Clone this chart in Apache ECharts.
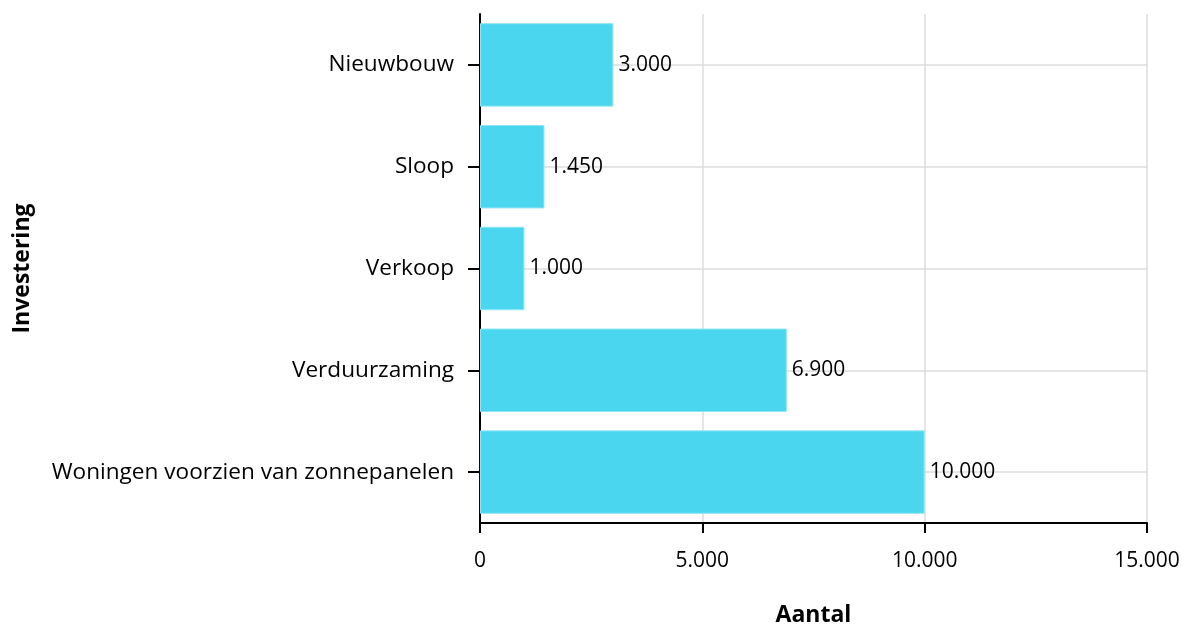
<!DOCTYPE html>
<html>
<head>
<meta charset="utf-8">
<script src="https://cdn.jsdelivr.net/npm/echarts@6/dist/echarts.min.js"></script>
<style>html,body{margin:0;padding:0;background:#fff}#c{width:1182px;height:626px}</style>
</head>
<body>
<div id="c"></div>
<script>
const categories = ['Nieuwbouw', 'Sloop', 'Verkoop', 'Verduurzaming', 'Woningen voorzien van zonnepanelen'];
const values = [3000, 1450, 1000, 6900, 10000];
const xTicks = { min: 0, max: 15000, interval: 5000 };
const xName = 'Aantal';
const yName = 'Investering';

const fmt = v => String(v).replace(/\B(?=(\d{3})+(?!\d))/g, '.');
const font = '"Open Sans", "Noto Sans", sans-serif';

const chart = echarts.init(document.getElementById('c'), null, { renderer: 'canvas' });
chart.setOption({
  animation: false,
  textStyle: { fontFamily: font },
  grid: { left: 480, right: 35, top: 14, bottom: 103, containLabel: false, outerBoundsMode: 'none' },
  xAxis: {
    type: 'value',
    min: xTicks.min, max: xTicks.max, interval: xTicks.interval,
    name: xName, nameLocation: 'middle', nameGap: 81,
    nameTextStyle: { fontFamily: font, fontSize: 23, fontWeight: 'bold', color: '#000' },
    axisLine: { show: true, lineStyle: { color: '#000', width: 2 } },
    axisTick: { show: true, length: 10, lineStyle: { color: '#000', width: 2 } },
    axisLabel: { margin: 28, fontFamily: font, fontSize: 21, color: '#000', formatter: v => fmt(v) },
    splitLine: { show: true, lineStyle: { color: '#ddd', width: 1.5 } }
  },
  yAxis: {
    type: 'category', data: categories, inverse: true,
    name: yName, nameLocation: 'middle', nameGap: 446, nameRotate: 90,
    nameTextStyle: { fontFamily: font, fontSize: 23, fontWeight: 'bold', color: '#000' },
    axisLine: { show: true, lineStyle: { color: '#000', width: 2 } },
    axisTick: { show: true, alignWithLabel: true, length: 12, lineStyle: { color: '#000', width: 2 } },
    axisLabel: { margin: 26, fontFamily: font, fontSize: 22.6, color: '#000' },
    splitLine: { show: false }
  },
  series: [
    {
      type: 'line', data: [], z: 1, silent: true,
      markLine: {
        z: 1, silent: true, symbol: 'none', label: { show: false },
        lineStyle: { type: 'solid', color: '#ddd', width: 1.5 },
        data: categories.map(c => ({ yAxis: c }))
      }
    },
    {
      type: 'bar', data: values, z: 3, barCategoryGap: '18%',
      itemStyle: { color: '#4bd6f0', borderColor: '#8fe6f6', borderWidth: 1 },
      label: { show: true, position: 'right', distance: 5, fontFamily: font, fontSize: 21, color: '#000', formatter: p => fmt(p.value) }
    }
  ]
});
</script>
</body>
</html>
